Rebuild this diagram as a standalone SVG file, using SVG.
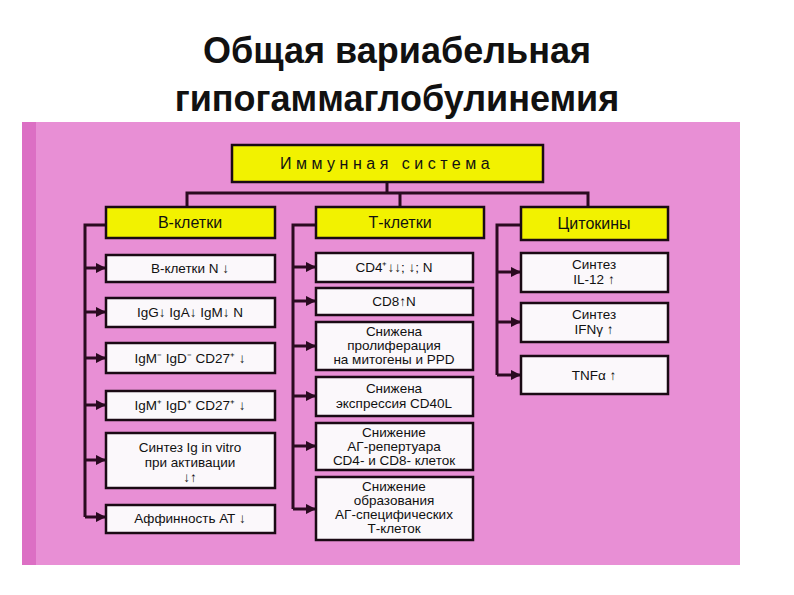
<svg xmlns="http://www.w3.org/2000/svg" width="794" height="595" viewBox="0 0 794 595">
<defs>
<marker id="ah" viewBox="0 0 10 10" refX="9" refY="5" markerWidth="3.5" markerHeight="3.5" orient="auto" markerUnits="strokeWidth"><path d="M0,0 L10,5 L0,10 z" fill="#2a0a20"/></marker>
</defs>
<style>
.title{font-family:"Liberation Sans",Arial,sans-serif;font-weight:bold;font-size:36px;fill:#111;text-anchor:middle}
.hd{fill:#f2f200;stroke:#1a0a14;stroke-width:2.5}
.bx{fill:#fbf8fb;stroke:#1a0a14;stroke-width:2.5}
.t{font-family:"Liberation Sans",Arial,sans-serif;font-size:13.5px;fill:#111;text-anchor:middle}
.th{font-family:"Liberation Sans",Arial,sans-serif;font-size:16px;fill:#111;text-anchor:middle}
.ln{fill:none;stroke:#2a0a20;stroke-width:3}
.ar{fill:none;stroke:#2a0a20;stroke-width:3;marker-end:url(#ah)}
</style>
<rect width="794" height="595" fill="#fff"/>
<text class="title" x="397" y="63">Общая вариабельная</text>
<text class="title" x="397" y="111">гипогаммаглобулинемия</text>
<rect x="22" y="122" width="718" height="443" fill="#e88fd5"/>
<rect x="22" y="122" width="14" height="443" fill="#dc6fc4"/>
<g id="connectors">
<path class="ln" d="M387,182 V193 M187,207 V193 H588 V207 M400,193 V207"/>
<path class="ln" d="M106,225 H85 V517 M316,225 H293 V509 M521,225 H497 V375"/>
<path class="ar" d="M85,268 H105"/><path class="ar" d="M85,312 H105"/><path class="ar" d="M85,358 H105"/><path class="ar" d="M85,405 H105"/><path class="ar" d="M85,460 H105"/><path class="ar" d="M85,517 H105"/>
<path class="ar" d="M293,267 H315"/><path class="ar" d="M293,301 H315"/><path class="ar" d="M293,346 H315"/><path class="ar" d="M293,396 H315"/><path class="ar" d="M293,446 H315"/><path class="ar" d="M293,509 H315"/>
<path class="ar" d="M497,272 H520"/><path class="ar" d="M497,322 H520"/><path class="ar" d="M497,375 H520"/>
</g>
<g id="top"><rect class="hd" x="232" y="145" width="311" height="37"/><text class="th" x="387" y="169" letter-spacing="4.5">Иммунная система</text></g>
<g id="hB"><rect class="hd" x="106" y="207" width="169" height="31"/><text class="th" x="190" y="228">В-клетки</text></g>
<g id="hT"><rect class="hd" x="316" y="207" width="168" height="31"/><text class="th" x="400" y="228">Т-клетки</text></g>
<g id="hC"><rect class="hd" x="521" y="207" width="147" height="33"/><text class="th" x="594" y="229">Цитокины</text></g>
<g id="b1"><rect class="bx" x="106" y="255" width="169" height="27"/><text class="t" x="190" y="273">В-клетки N ↓</text></g>
<g id="b2"><rect class="bx" x="106" y="298" width="169" height="29"/><text class="t" x="190" y="317">IgG↓ IgA↓ IgM↓ N</text></g>
<g id="b3"><rect class="bx" x="106" y="343" width="169" height="30"/><text class="t" x="190" y="363">IgM⁻ IgD⁻ CD27⁺ ↓</text></g>
<g id="b4"><rect class="bx" x="106" y="391" width="169" height="29"/><text class="t" x="190" y="410">IgM⁺ IgD⁺ CD27⁺ ↓</text></g>
<g id="b5"><rect class="bx" x="106" y="433" width="169" height="55"/><text class="t" x="190" y="452">Синтез Ig in vitro</text><text class="t" x="190" y="467">при активации</text><text class="t" x="190" y="482">↓↑</text></g>
<g id="b6"><rect class="bx" x="106" y="505" width="169" height="28"/><text class="t" x="190" y="523">Аффинность АТ ↓</text></g>
<g id="t1"><rect class="bx" x="316" y="253" width="157" height="29"/><text class="t" x="394" y="272">CD4⁺↓↓; ↓; N</text></g>
<g id="t2"><rect class="bx" x="316" y="288" width="157" height="27"/><text class="t" x="394" y="306">CD8↑N</text></g>
<g id="t3"><rect class="bx" x="316" y="322" width="157" height="48"/><text class="t" x="394" y="336">Снижена</text><text class="t" x="394" y="350">пролиферация</text><text class="t" x="394" y="364">на митогены и PPD</text></g>
<g id="t4"><rect class="bx" x="316" y="377" width="157" height="39"/><text class="t" x="394" y="393">Снижена</text><text class="t" x="394" y="408">экспрессия CD40L</text></g>
<g id="t5"><rect class="bx" x="316" y="423" width="157" height="47"/><text class="t" x="394" y="437">Снижение</text><text class="t" x="394" y="451">АГ-репертуара</text><text class="t" x="394" y="465">CD4- и CD8- клеток</text></g>
<g id="t6"><rect class="bx" x="316" y="477" width="157" height="63"/><text class="t" x="394" y="491">Снижение</text><text class="t" x="394" y="505">образования</text><text class="t" x="394" y="519">АГ-специфических</text><text class="t" x="394" y="533">Т-клеток</text></g>
<g id="c1"><rect class="bx" x="521" y="253" width="147" height="39"/><text class="t" x="594" y="269">Синтез</text><text class="t" x="594" y="284">IL-12 ↑</text></g>
<g id="c2"><rect class="bx" x="521" y="303" width="147" height="39"/><text class="t" x="594" y="319">Синтез</text><text class="t" x="594" y="334">IFNγ ↑</text></g>
<g id="c3"><rect class="bx" x="521" y="356" width="147" height="38"/><text class="t" x="594" y="380">TNFα ↑</text></g>
</svg>
